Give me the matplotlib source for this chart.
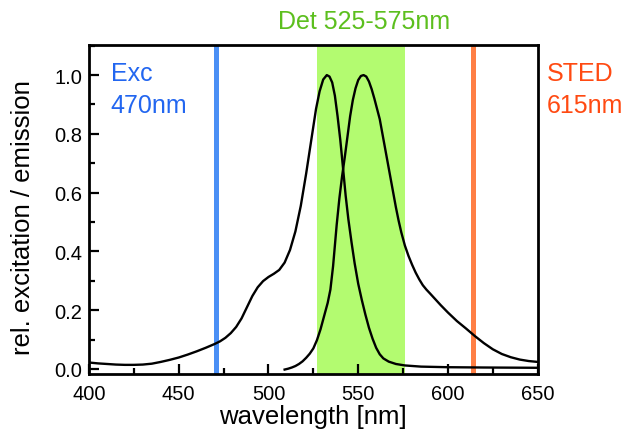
import matplotlib
matplotlib.use('Agg')
import matplotlib.pyplot as plt
from matplotlib.ticker import MultipleLocator

plt.rcParams['font.family'] = ['Liberation Sans', 'DejaVu Sans']

# excitation spectrum
exc_wl = [400, 405, 410, 415, 420, 425, 430, 435, 440, 445, 450, 455, 460, 465,
          470, 473, 476, 479, 482, 485, 488, 491, 494, 497, 500, 503, 506, 509,
          512, 515, 518, 521, 524, 526.5, 528.5, 530.5, 532.5, 534, 535.5, 537,
          538.5, 540, 541.6, 543, 544.5, 546.3, 548, 550, 552, 554, 556, 558,
          560, 562, 564, 567, 571, 576, 585, 600, 620, 650]
exc_val = [0.022, 0.019, 0.017, 0.015, 0.014, 0.014, 0.015, 0.018, 0.024, 0.031,
           0.039, 0.049, 0.060, 0.072, 0.085, 0.094, 0.106, 0.122, 0.143, 0.172,
           0.210, 0.248, 0.278, 0.299, 0.313, 0.324, 0.337, 0.362, 0.405, 0.468,
           0.555, 0.665, 0.785, 0.885, 0.945, 0.985, 1.000, 0.995, 0.975, 0.930,
           0.860, 0.780, 0.680, 0.590, 0.510, 0.430, 0.360, 0.290, 0.235, 0.185,
           0.140, 0.103, 0.072, 0.050, 0.036, 0.025, 0.017, 0.012, 0.008, 0.006,
           0.005, 0.004]

# emission spectrum
em_wl = [509, 511, 513, 515, 517, 519, 521, 523, 525, 527, 529, 531, 533, 534.5,
         536, 537, 538, 539.5, 541, 542.5, 544, 545.5, 547, 548.5, 550, 551.5,
         553, 554.5, 556, 557.5, 559, 560.5, 562, 563.5, 565, 566.5, 568, 569.5,
         571, 572.5, 574, 576, 578, 580, 582, 584, 586, 588, 590, 593, 596, 600,
         605, 610, 615, 620, 625, 630, 635, 640, 645, 650]
em_val = [-0.002, 0.001, 0.005, 0.010, 0.017, 0.026, 0.038, 0.052, 0.070, 0.098,
          0.135, 0.180, 0.225, 0.270, 0.350, 0.420, 0.490, 0.580, 0.655, 0.720,
          0.790, 0.860, 0.915, 0.955, 0.983, 0.997, 1.000, 0.995, 0.978, 0.952,
          0.920, 0.885, 0.850, 0.800, 0.750, 0.700, 0.650, 0.600, 0.550, 0.505,
          0.465, 0.420, 0.385, 0.355, 0.328, 0.305, 0.285, 0.270, 0.257, 0.237,
          0.217, 0.192, 0.163, 0.138, 0.112, 0.088, 0.067, 0.051, 0.040, 0.032,
          0.027, 0.024]

exc_laser = 470.5
sted_laser = 613.8
det_band = (527, 576)

fig = plt.figure(figsize=(6.28, 4.35), dpi=100)
ax = fig.add_axes([0.1417, 0.138, 0.7145, 0.756])

ax.axvspan(det_band[0], det_band[1], color='#b3fb70', lw=0, zorder=1)
ax.axvline(exc_laser, color='#4a8ff5', lw=3.6, zorder=2)
ax.axvline(sted_laser, color='#ff7f45', lw=3.6, zorder=2)

ax.plot(exc_wl, exc_val, color='black', lw=1.7, zorder=3,
        solid_joinstyle='round')
ax.plot(em_wl, em_val, color='black', lw=1.7, zorder=3,
        solid_joinstyle='round')

ax.set_xlim(400, 650)
ax.set_ylim(-0.017, 1.102)
ax.xaxis.set_major_locator(MultipleLocator(50))
ax.xaxis.set_minor_locator(MultipleLocator(25))
ax.yaxis.set_major_locator(MultipleLocator(0.2))
ax.yaxis.set_minor_locator(MultipleLocator(0.1))
ax.tick_params(which='both', direction='in', top=False, right=False, width=1.6,
               labelsize=14.5)
ax.tick_params(which='major', length=7)
ax.tick_params(which='minor', length=4.5)
ax.tick_params(axis='x', pad=7)
ax.tick_params(axis='y', pad=5)
for s in ax.spines.values():
    s.set_linewidth(2)

ax.set_xlabel('wavelength [nm]', fontsize=18.5, labelpad=1)
ax.set_ylabel('rel. excitation / emission', fontsize=18.5)
ax.yaxis.set_label_coords(-0.12, 0.48)

ax.text(0.048, 0.894, 'Exc', transform=ax.transAxes, color='#2266f0',
        fontsize=18, ha='left', va='baseline')
ax.text(0.048, 0.796, '470nm', transform=ax.transAxes, color='#2266f0',
        fontsize=18, ha='left', va='baseline')
ax.text(1.021, 0.894, 'STED', transform=ax.transAxes, color='#ff4a12',
        fontsize=18, ha='left', va='baseline')
ax.text(1.021, 0.796, '615nm', transform=ax.transAxes, color='#ff4a12',
        fontsize=18, ha='left', va='baseline')
ax.text(0.613, 1.052, 'Det 525-575nm', transform=ax.transAxes, color='#5cbf1e',
        fontsize=18, ha='center', va='baseline')

fig.savefig('out.png', dpi=100, facecolor='white')
